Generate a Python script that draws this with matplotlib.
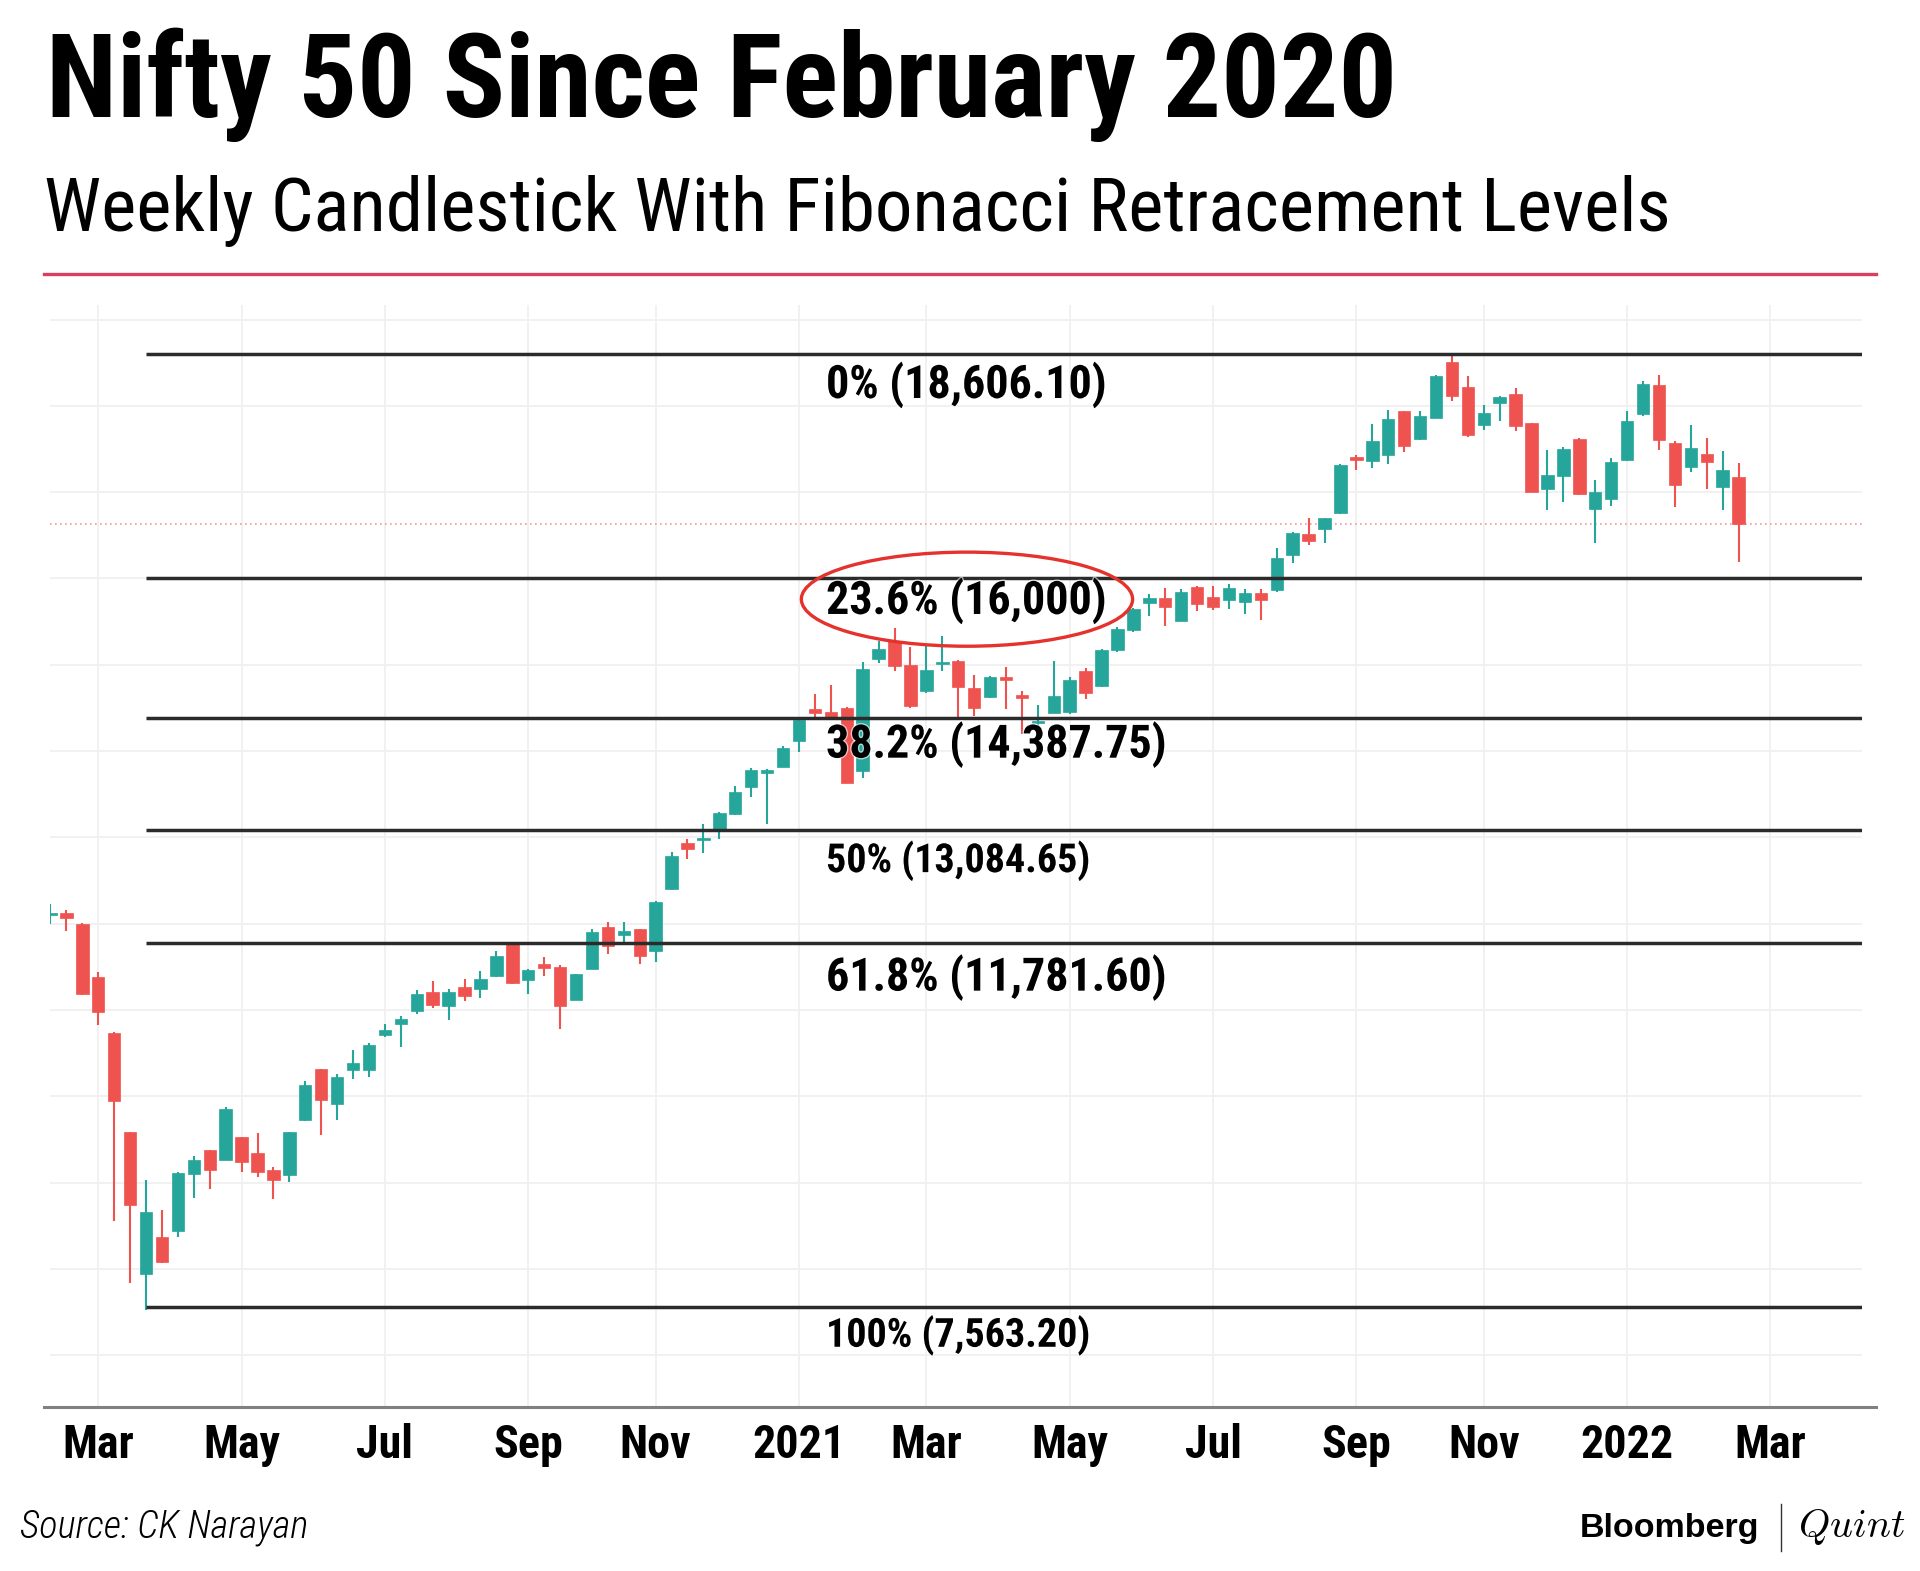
import numpy as np
import pandas as pd
import matplotlib
matplotlib.use('Agg')
import matplotlib.pyplot as plt
from matplotlib import font_manager as fm
from matplotlib.patches import Ellipse
from matplotlib.lines import Line2D
import matplotlib.patheffects as pe

W, H, DPI = 1920, 1571, 100

## Weekly Nifty 50 candles (week starting Monday)
weeks = pd.date_range('2020-02-10', periods=107, freq='7D')
opens = [12102, 12123, 12000, 11383, 10736, 9583, 7941, 8376, 8446, 9097,
         9379, 9263, 9525, 9348, 9147, 9090, 9726, 10315, 9911, 10311,
         10311, 10709, 10843, 10990, 11210, 11044, 11268, 11248, 11391, 11776,
         11345, 11530, 11499, 11121, 11480, 11961, 11865, 11934, 11680, 12399,
         12937, 12968, 13073, 13266, 13587, 13750, 13820, 14118, 14489, 14450,
         14497, 13769, 15070, 15279, 15000, 14700, 15010, 15047, 14731, 14628,
         14838, 14647, 14323, 14445, 14453, 14929, 14758, 15169, 15405, 15714,
         15779, 15512, 15901, 15787, 15748, 15733, 15836, 15865, 16271, 16511,
         16570, 16755, 17406, 17356, 17425, 17936, 17615, 17859, 18509, 18219,
         17781, 18033, 18142, 17801, 17040, 17191, 17617, 16803, 16919, 17373,
         17908, 18238, 17567, 17288, 17443, 17055, 17179]
highs = [12231, 12154, 12005, 11441, 10745, 9590, 9032, 8684, 9128, 9309,
         9380, 9872, 9525, 9579, 9186, 9590, 10180, 10322, 10265, 10543,
         10620, 10843, 10928, 11229, 11337, 11248, 11364, 11449, 11684, 11788,
         11480, 11615, 11526, 11422, 11934, 12019, 12019, 11934, 12262, 12833,
         12976, 13150, 13297, 13595, 13800, 13793, 14060, 14381, 14659, 14768,
         14508, 15027, 15279, 15426, 15201, 15240, 15335, 15055, 14883, 14871,
         14979, 14693, 14529, 15040, 14857, 14960, 15188, 15436, 15653, 15817,
         15893, 15874, 15912, 15912, 15939, 15874, 15874, 16349, 16540, 16697,
         16705, 17329, 17433, 17789, 17956, 17940, 17936, 18362, 18606, 18343,
         18006, 18118, 18207, 17805, 17485, 17528, 17629, 17140, 17396, 17935,
         18284, 18354, 17598, 17780, 17629, 17481, 17334]
lows = [12000, 11915, 11170, 10824, 8561, 7837, 7528, 8068, 8376, 8827,
        8924, 9263, 9128, 9063, 8812, 9013, 9718, 9548, 9726, 10207,
        10227, 10689, 10574, 10959, 11029, 10890, 11106, 11144, 11383, 11306,
        11190, 11391, 10786, 11114, 11472, 11653, 11788, 11537, 11557, 12390,
        12748, 12814, 12980, 13258, 13471, 13150, 13812, 13986, 14388, 14388,
        13626, 13692, 15019, 14923, 14497, 14672, 14930, 14376, 14407, 14620,
        14483, 14200, 14270, 14436, 14426, 14598, 14740, 15150, 15380, 15569,
        15455, 15505, 15627, 15634, 15646, 15588, 15520, 15845, 16175, 16387,
        16407, 16750, 17259, 17278, 17328, 17464, 17608, 17855, 18052, 17638,
        17716, 17820, 17704, 17000, 16790, 16880, 16965, 16415, 16834, 17360,
        17877, 17489, 16830, 17230, 17035, 16795, 16194]
closes = [12113, 12069, 11190, 10978, 9949, 8742, 8665, 8076, 9116, 9263,
          9147, 9849, 9244, 9128, 9032, 9583, 10130, 9957, 10227, 10381,
          10601, 10766, 10897, 11183, 11056, 11210, 11160, 11364, 11626, 11318,
          11468, 11491, 11044, 11414, 11904, 11738, 11915, 11626, 12250, 12786,
          12871, 12995, 13278, 13529, 13781, 13762, 14032, 14361, 14447, 14400,
          13634, 14950, 15182, 14988, 14528, 14940, 15035, 14742, 14502, 14864,
          14825, 14617, 14350, 14636, 14826, 14674, 15177, 15417, 15646, 15779,
          15665, 15848, 15703, 15665, 15893, 15829, 15748, 16235, 16531, 16438,
          16697, 17317, 17367, 17588, 17851, 17530, 17886, 18343, 18118, 17665,
          17917, 18103, 17762, 17007, 17196, 17501, 16975, 16997, 17346, 17819,
          18257, 17605, 17086, 17512, 17354, 17257, 16636]

fib_val = [18606.10, 16000, 14387.75, 13084.65, 11781.60, 7563.20]
fib_lab = ['0% (18,606.10)', '23.6% (16,000)', '38.2% (14,387.75)',
           '50% (13,084.65)', '61.8% (11,781.60)', '100% (7,563.20)']

TEAL = '#26a69a'
RED = '#ef5350'


def px(p):
    # pixels -> points
    return p * 72.0 / DPI


#	Pick a condensed face if there is one
def pick_font():
    names = {f.name for f in fm.fontManager.ttflist}
    for fam in ['Roboto Condensed', 'Liberation Sans Narrow', 'Open Sans Condensed',
                'DejaVu Sans Condensed']:
        if fam in names:
            return fam, 'normal'
    for f in fm.fontManager.ttflist:
        if f.name == 'DejaVu Sans' and 'Condensed' in f.fname:
            return 'DejaVu Sans', 'condensed'
    return 'Roboto', 'normal'


COND, STRETCH = pick_font()
plt.rcParams['font.family'] = [COND, 'DejaVu Sans']
plt.rcParams['font.stretch'] = STRETCH
plt.rcParams['mathtext.fontset'] = 'cm'

fig = plt.figure(figsize=(W / DPI, H / DPI), dpi=DPI)
fig.patch.set_facecolor('white')


def fx(x):
    return x / W


def fy(y):
    return 1 - y / H


#	Header
fig.text(fx(46), fy(117), 'Nifty 50 Since February 2020', fontsize=px(116),
         fontweight='bold', color='black', va='baseline', ha='left')
fig.text(fx(44), fy(231), 'Weekly Candlestick With Fibonacci Retracement Levels',
         fontsize=px(75), color='black', va='baseline', ha='left')
fig.add_artist(Line2D([fx(44), fx(1876)], [fy(274), fy(274)], color='#d8405f', lw=2.4))

#	Plot area
top, bot, left, right = 305, 1406.7, 50, 1862
ax = fig.add_axes([fx(left), fy(bot), fx(right - left), (bot - top) / H])
ax.set_facecolor('white')
for s in ax.spines.values():
    s.set_visible(False)

x = np.arange(len(opens))
o, hi, lo, c = map(np.array, (opens, highs, lows, closes))
up = c >= o
cols = np.where(up, TEAL, RED)

# month ticks: first weekly bar of every odd month
all_weeks = pd.date_range(weeks[0], periods=114, freq='7D')
tick_idx, tick_lab = [], []
for i, d in enumerate(all_weeks):
    if d.day <= 7 and d.month % 2 == 1:
        tick_idx.append(i)
        tick_lab.append(str(d.year) if d.month == 1 else d.strftime('%b'))

ax.set_xlim(-0.03, 113.75)
ax.set_ylim(6405, 19168)
ax.set_xticks(tick_idx, tick_lab)
ax.set_yticks(np.arange(7000, 19001, 1000))
ax.tick_params(axis='y', length=0, labelleft=False)
ax.tick_params(axis='x', length=0, pad=px(16), labelsize=px(46))
for t in ax.get_xticklabels():
    t.set_fontweight('bold')
ax.grid(True, color='#f0f0f0', lw=1.3, zorder=0)
ax.set_axisbelow(True)

# current price line
ax.axhline(closes[-1], color='#f29a9a', lw=1.2, ls=(0, (1, 2)), zorder=1)

# candles
ax.vlines(x, lo, hi, colors=cols, lw=1.5, zorder=2)
body_lo = np.minimum(o, c)
body_h = np.maximum(np.abs(c - o), 28)
ax.bar(x, body_h, 0.78, bottom=body_lo, color=cols, edgecolor=cols, lw=0.5, zorder=3)

# fibonacci levels from the swing low to the right edge
start = int(np.argmin(lo))
ax.hlines(fib_val, start, ax.get_xlim()[1], color='#2b2b2b', lw=2.5, zorder=4)

label_x = 48.7
offs = [44.5, 35.5, 40, 42, 48, 40]
sizes = [46, 46, 46, 40, 46, 40]
for v, s, off, sz in zip(fib_val, fib_lab, offs, sizes):
    ax.annotate(s, (label_x, v), xytext=(0, -px(off)), textcoords='offset points',
                ha='left', va='baseline', fontsize=px(sz), fontweight='bold',
                color='black', zorder=6,
                path_effects=[pe.withStroke(linewidth=2, foreground='white', alpha=0.6)])

# ring round the 23.6% label
ax.add_patch(Ellipse((label_x + 8.85, fib_val[1] - 240), 20.8, 1090, fill=False,
                     ec='#e5322d', lw=2.4, zorder=7))

#	Bottom axis line
fig.add_artist(Line2D([fx(44), fx(1876)], [fy(1406.7), fy(1406.7)], color='#808080', lw=2.2))

#	Footer
fig.text(fx(20), fy(1537), 'Source: CK Narayan', fontsize=px(38.5), style='italic',
         fontweight='light', color='black', va='baseline', ha='left')
fig.text(fx(1759), fy(1537), 'Bloomberg', fontsize=px(34), fontweight='bold',
         family=['Liberation Sans', 'DejaVu Sans'], color='black', va='baseline', ha='right')
fig.add_artist(Line2D([fx(1781), fx(1781)], [fy(1504), fy(1551)], color='#333333', lw=1))
fig.text(fx(1798), fy(1537), r'$Quint$', fontsize=px(40), color='black',
         va='baseline', ha='left')

fig.savefig('out.png', dpi=DPI, facecolor='white')
